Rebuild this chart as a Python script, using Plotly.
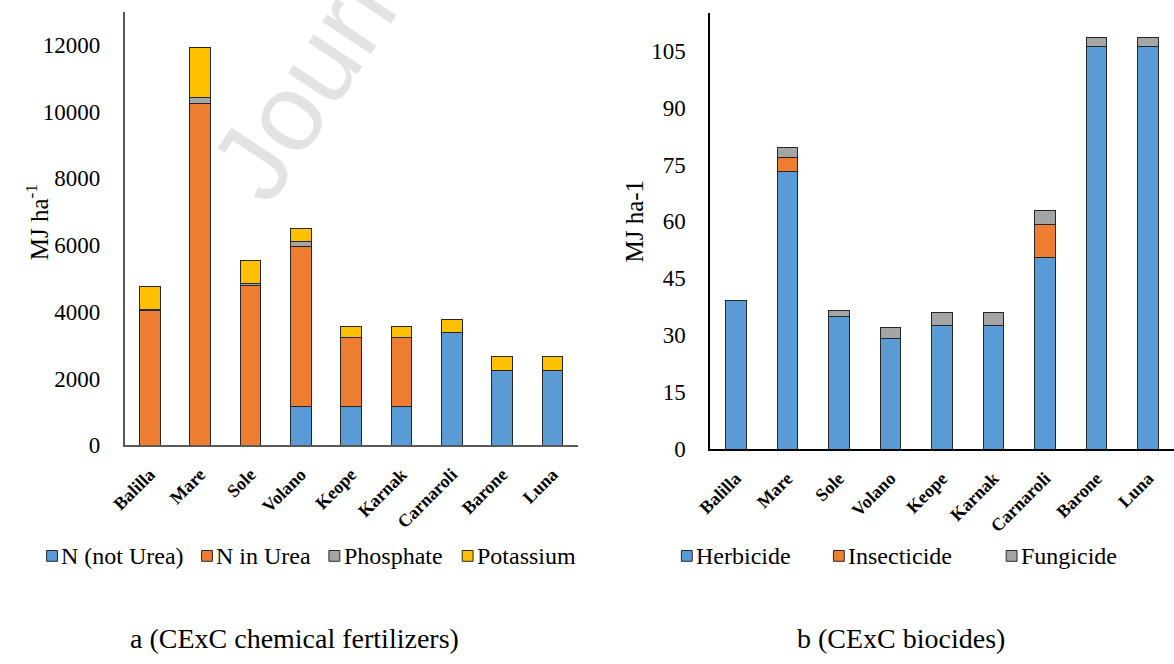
import plotly.graph_objects as go

W, H = 1174, 664

varieties = ["Balilla", "Mare", "Sole", "Volano", "Keope", "Karnak", "Carnaroli", "Barone", "Luna"]

# (a) energy of chemical fertilizers, MJ ha-1
n_not_urea = [0, 0, 0, 1150, 1160, 1160, 3370, 2240, 2240]
n_in_urea = [4050, 10250, 4800, 4800, 2060, 2060, 0, 0, 0]
phosphate = [20, 190, 40, 160, 20, 20, 0, 0, 0]
potassium = [690, 1480, 690, 390, 310, 310, 410, 420, 420]

# (b) energy of biocides, MJ ha-1
herbicide = [39.1, 73.1, 35.0, 29.2, 32.6, 32.6, 50.6, 106.2, 106.2]
insecticide = [0, 3.7, 0, 0, 0, 0, 8.7, 0, 0]
fungicide = [0, 2.8, 1.4, 2.9, 3.5, 3.5, 3.7, 2.4, 2.4]

fert_names = ["N (not Urea)", "N in Urea", "Phosphate", "Potassium"]
fert_values = [n_not_urea, n_in_urea, phosphate, potassium]
fert_colors = ["#5B9BD5", "#ED7D31", "#A5A5A5", "#FFC000"]

bio_names = ["Herbicide", "Insecticide", "Fungicide"]
bio_values = [herbicide, insecticide, fungicide]
bio_colors = ["#5B9BD5", "#ED7D31", "#A5A5A5"]

SERIF = "Liberation Serif"
OUTLINE = "#262626"


def fx(px):
    return px / W


def fy(py):
    return 1 - py / H


fig = go.Figure()

for name, vals, col in zip(fert_names, fert_values, fert_colors):
    fig.add_trace(go.Bar(
        x=varieties, y=vals, name=name, width=0.41,
        marker=dict(color=col, line=dict(color=OUTLINE, width=1)),
        xaxis="x", yaxis="y", showlegend=False,
    ))

for name, vals, col in zip(bio_names, bio_values, bio_colors):
    fig.add_trace(go.Bar(
        x=varieties, y=vals, name=name, width=0.40,
        marker=dict(color=col, line=dict(color=OUTLINE, width=1)),
        xaxis="x2", yaxis="y2", showlegend=False,
    ))

xcommon = dict(
    type="category", showgrid=False, zeroline=False, showline=True,
    ticks="outside", ticklen=10, tickcolor="rgba(0,0,0,0)", tickangle=-45,
    tickfont=dict(family=SERIF, size=18, color="black", weight="bold"),
)
ycommon = dict(
    showgrid=False, zeroline=False, showline=True, tickformat="d",
    ticks="outside", ticklen=18, tickcolor="rgba(0,0,0,0)",
    tickfont=dict(family=SERIF, size=23, color="black"),
)

fig.update_layout(
    width=W, height=H,
    margin=dict(l=0, r=0, t=0, b=0),
    paper_bgcolor="white", plot_bgcolor="white",
    barmode="stack",
    showlegend=False,
    font=dict(family=SERIF, color="black"),
    xaxis=dict(xcommon, domain=[fx(111), fx(570)], anchor="y", linecolor="#595959", linewidth=1.5),
    yaxis=dict(ycommon, domain=[fy(454), fy(12)], anchor="x", range=[0, 13000], dtick=2000,
               linecolor="#595959", linewidth=1.5),
    xaxis2=dict(xcommon, domain=[fx(704), fx(1174)], anchor="y2", linecolor="black", linewidth=1.5),
    yaxis2=dict(ycommon, domain=[fy(458), fy(13)], anchor="x2", range=[0, 115], dtick=15,
                linecolor="black", linewidth=1.5),
)

annotations = []
shapes = []

# axis titles
annotations.append(dict(
    x=fx(22), y=fy(227), xref="paper", yref="paper", text="MJ ha<sup>-1</sup>",
    textangle=-90, showarrow=False, xanchor="center", yanchor="middle",
    font=dict(family=SERIF, size=25, color="black"),
))
annotations.append(dict(
    x=fx(628), y=fy(225), xref="paper", yref="paper", text="MJ ha-1",
    textangle=-90, showarrow=False, xanchor="center", yanchor="middle",
    font=dict(family=SERIF, size=25, color="black"),
))


# legends drawn as swatch + label pairs
def legend_row(names, colors, xs, ycen):
    for name, col, x0 in zip(names, colors, xs):
        shapes.append(dict(
            type="rect", xref="paper", yref="paper",
            x0=fx(x0), x1=fx(x0 + 11), y0=fy(ycen + 5.5), y1=fy(ycen - 5.5),
            fillcolor=col, line=dict(color=OUTLINE, width=1),
        ))
        annotations.append(dict(
            x=fx(x0 + 13), y=fy(ycen), xref="paper", yref="paper", text=name,
            showarrow=False, xanchor="left", yanchor="middle",
            font=dict(family=SERIF, size=24, color="black"),
        ))


legend_row(fert_names, fert_colors, [32, 189, 318, 453], 567)
legend_row(bio_names, bio_colors, [675, 829, 1004], 567)

# panel captions
annotations.append(dict(
    x=fx(283), y=fy(651), xref="paper", yref="paper", text="a (CExC chemical fertilizers)",
    showarrow=False, xanchor="center", yanchor="middle",
    font=dict(family=SERIF, size=28, color="black"),
))
annotations.append(dict(
    x=fx(897), y=fy(651), xref="paper", yref="paper", text="b (CExC biocides)",
    showarrow=False, xanchor="center", yanchor="middle",
    font=dict(family=SERIF, size=28, color="black"),
))

# publisher watermark
annotations.append(dict(
    x=fx(462), y=fy(-171), xref="paper", yref="paper", text="Journal Pre-proof",
    textangle=-56.5, showarrow=False, xanchor="center", yanchor="middle",
    font=dict(family="Liberation Sans", size=110, color="#E3E3E3"),
))

fig.update_layout(annotations=annotations, shapes=shapes)

fig.write_html("out.html")
